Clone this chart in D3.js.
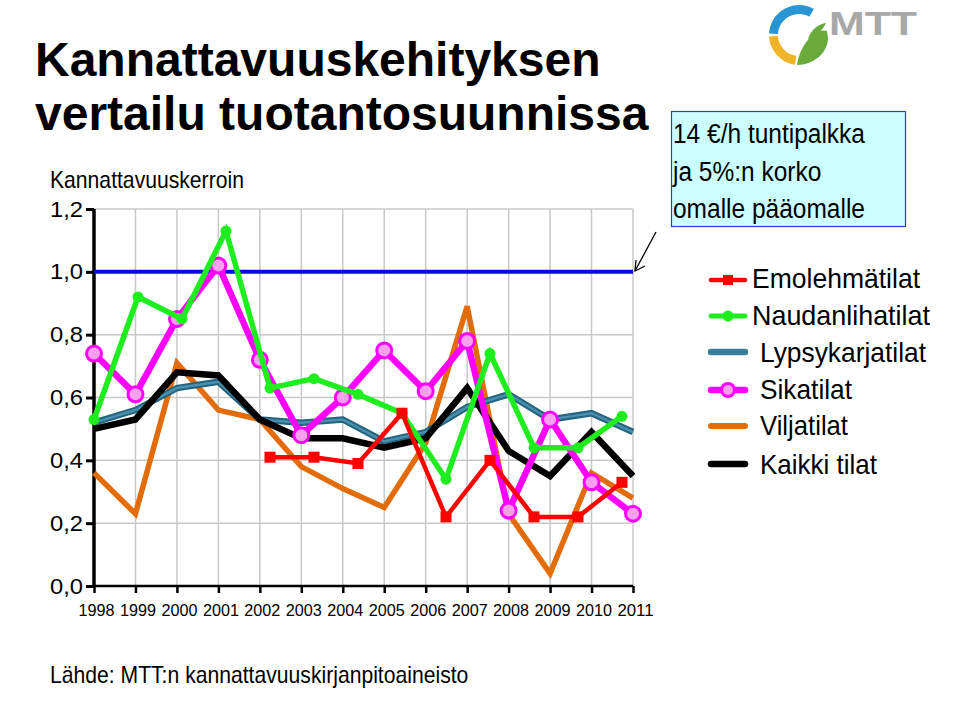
<!DOCTYPE html>
<html><head><meta charset="utf-8">
<script src="https://cdn.jsdelivr.net/npm/d3@7"></script>
<style>body{margin:0;background:#fff}svg{display:block;font-family:"Liberation Sans",Arial,sans-serif}</style>
</head><body>
<svg id="c" width="960" height="702"></svg>
<script>
const years = [1998,1999,2000,2001,2002,2003,2004,2005,2006,2007,2008,2009,2010,2011];
const yTicks = [0,0.2,0.4,0.6,0.8,1.0,1.2];
const yTickLabels = ["0,0","0,2","0,4","0,6","0,8","1,0","1,2"];
const emoYears = [2002,2003,2004,2005,2006,2007,2008,2009,2010];
const emolehma = [0.41,0.41,0.39,0.55,0.22,0.40,0.22,0.22,0.33];
const naudYears = [1998,1999,2000,2001,2002,2003,2004,2005,2006,2007,2008,2009,2010];
const naudanliha = [0.53,0.92,0.85,1.13,0.63,0.66,0.61,0.55,0.34,0.74,0.44,0.44,0.54];
const lypsy = [0.52,0.56,0.63,0.65,0.53,0.52,0.53,0.46,0.49,0.57,0.61,0.53,0.55,0.49];
const sika = [0.74,0.61,0.85,1.02,0.72,0.48,0.60,0.75,0.62,0.78,0.24,0.53,0.33,0.23];
const vilja = [0.36,0.23,0.71,0.56,0.53,0.38,0.31,0.25,0.455,0.89,0.23,0.04,0.36,0.28];
const kaikki = [0.50,0.53,0.68,0.67,0.53,0.47,0.47,0.44,0.47,0.63,0.43,0.35,0.49,0.35];
const refLevel = 1.0;
const legendNames = ["Emolehmätilat","Naudanlihatilat","Lypsykarjatilat","Sikatilat","Viljatilat","Kaikki tilat"];
const titleLines = ["Kannattavuuskehityksen","vertailu tuotantosuunnissa"];
const yTitle = "Kannattavuuskerroin";
const noteLines = ["14 €/h tuntipalkka","ja 5%:n korko","omalle pääomalle"];
const source = "Lähde: MTT:n kannattavuuskirjanpitoaineisto";

const svg = d3.select("#c");
const x = d3.scalePoint().domain(years).range([94,633]);
const xAlt = d3.scalePoint().domain(naudYears).range([94,622]);
const y = d3.scaleLinear().domain([0,1.2]).range([586,209]);

// condensed text helper
function ctext(parent, tx, ty, fs, sx, str, extra){
  const t = parent.append("text").attr("transform",`translate(${tx},${ty}) scale(${sx},1)`)
    .attr("font-size",fs).attr("fill","#000").text(str);
  if(extra) extra(t);
  return t;
}

// title
svg.selectAll("text.title").data(titleLines).join("text")
  .attr("x",35).attr("y",(d,i)=>76+i*54).attr("font-size",48).attr("font-weight","bold").attr("fill","#000")
  .text(d=>d);
ctext(svg,50,188,23,0.92,yTitle);

// grid
const g = svg.append("g");
g.selectAll("line.hg").data(yTicks.filter(v=>v>0)).join("line")
  .attr("x1",94).attr("x2",633).attr("y1",d=>y(d)).attr("y2",d=>y(d))
  .attr("stroke","#c8c8c8").attr("stroke-width",1.5);
g.selectAll("line.vg").data(years.slice(1)).join("line")
  .attr("x1",d=>x(d)).attr("x2",d=>x(d)).attr("y1",y(1.2)).attr("y2",y(0))
  .attr("stroke","#c8c8c8").attr("stroke-width",1.5);

// axes
const yAxis = svg.append("g").attr("transform","translate(94,0)")
  .call(d3.axisLeft(y).tickValues(yTicks).tickSize(8).tickPadding(3).tickFormat((d,i)=>yTickLabels[i]));
yAxis.select(".domain").attr("stroke","#000").attr("stroke-width",3.5).attr("d","M0,"+y(1.2)+"V"+y(0));
yAxis.selectAll(".tick line").attr("stroke","#000").attr("stroke-width",3);
yAxis.selectAll(".tick text").attr("font-size",22).attr("fill","#000").attr("font-family","Liberation Sans, Arial")
  .attr("textLength",33).attr("lengthAdjust","spacingAndGlyphs");
const xAxis = svg.append("g").attr("transform","translate(0,586)")
  .call(d3.axisBottom(x).tickSize(7).tickPadding(11));
xAxis.select(".domain").attr("stroke","#000").attr("stroke-width",2.5).attr("d","M94,0H633");
xAxis.selectAll(".tick line").attr("stroke","#000").attr("stroke-width",2.5);
xAxis.selectAll(".tick text").attr("font-size",17).attr("fill","#000").attr("dx",2)
  .attr("font-family","Liberation Sans, Arial").attr("textLength",36).attr("lengthAdjust","spacingAndGlyphs");

// reference line
svg.append("line").attr("x1",94).attr("x2",633).attr("y1",y(refLevel)).attr("y2",y(refLevel))
  .attr("stroke","#0a0ae0").attr("stroke-width",4);

const lineMain = d3.line().x((d,i)=>x(years[i])).y(d=>y(d));
const plot = svg.append("g");
plot.append("path").attr("d",lineMain(vilja)).attr("fill","none").attr("stroke","#e36c0a").attr("stroke-width",5.5);
plot.append("path").attr("d",lineMain(lypsy)).attr("fill","none").attr("stroke","#23647f").attr("stroke-width",6.5);
plot.append("path").attr("d",lineMain(lypsy)).attr("fill","none").attr("stroke","#4a8fae").attr("stroke-width",2.5);
plot.append("path").attr("d",lineMain(kaikki)).attr("fill","none").attr("stroke","#000").attr("stroke-width",6.5);
plot.append("path").attr("d",lineMain(sika)).attr("fill","none").attr("stroke","#ff00ff").attr("stroke-width",6.5);
plot.selectAll("circle.sika").data(sika).join("circle")
  .attr("cx",(d,i)=>x(years[i])).attr("cy",d=>y(d)).attr("r",7.5)
  .attr("fill","#f8a0ef").attr("stroke","#ff00ff").attr("stroke-width",3);
const lineNaud = d3.line().x((d,i)=>xAlt(naudYears[i])).y(d=>y(d));
plot.append("path").attr("d",lineNaud(naudanliha)).attr("fill","none").attr("stroke","#1eee1e").attr("stroke-width",5.5);
plot.selectAll("circle.naud").data(naudanliha).join("circle")
  .attr("cx",(d,i)=>xAlt(naudYears[i])).attr("cy",d=>y(d)).attr("r",5.5).attr("fill","#1eee1e");
const lineEmo = d3.line().x((d,i)=>xAlt(emoYears[i])).y(d=>y(d));
plot.append("path").attr("d",lineEmo(emolehma)).attr("fill","none").attr("stroke","#ff0000").attr("stroke-width",4.5);
plot.selectAll("rect.emo").data(emolehma).join("rect")
  .attr("x",(d,i)=>xAlt(emoYears[i])-5.5).attr("y",d=>y(d)-5.5).attr("width",11).attr("height",11).attr("fill","#ff0000");

// legend
const legY = [280,316,352,390,426,464];
const legBase = [288,325,362,399,435,474];
const legX = [752,752,760,760,760,760];
const legW = [168,178,166,92,88,117];
const leg = svg.append("g");
const styles = [
  {c:"#ff0000",w:4.5},{c:"#1eee1e",w:5},{c:"#3a7f9c",w:6.5},{c:"#ff00ff",w:6.5},{c:"#e36c0a",w:6},{c:"#000",w:6.5}];
legendNames.forEach((n,i)=>{
  leg.append("line").attr("x1",711).attr("x2",745).attr("y1",legY[i]).attr("y2",legY[i])
    .attr("stroke",styles[i].c).attr("stroke-width",styles[i].w).attr("stroke-linecap","round");
  if(i===0) leg.append("rect").attr("x",723).attr("y",legY[i]-5).attr("width",10).attr("height",10).attr("fill","#ff0000");
  if(i===1) leg.append("circle").attr("cx",728).attr("cy",legY[i]).attr("r",5.5).attr("fill","#1eee1e");
  if(i===3) leg.append("circle").attr("cx",728).attr("cy",legY[i]).attr("r",6.5).attr("fill","#f8a0ef").attr("stroke","#ff00ff").attr("stroke-width",3);
  leg.append("text").attr("x",legX[i]).attr("y",legBase[i]).attr("font-size",28).attr("fill","#000")
    .attr("textLength",legW[i]).attr("lengthAdjust","spacingAndGlyphs").text(n);
});

// note box
svg.append("rect").attr("x",671.5).attr("y",111.5).attr("width",234).attr("height",115)
  .attr("fill","#ccffff").attr("stroke","#3333ff").attr("stroke-width",1.2);
noteLines.forEach((s,i)=>ctext(svg,673,143+i*37.5,28,0.875,s));
// arrow
svg.append("line").attr("x1",656).attr("y1",232).attr("x2",635).attr("y2",271).attr("stroke","#000").attr("stroke-width",1.3);
svg.append("path").attr("d","M636,260 L635,271 L645,266").attr("fill","none").attr("stroke","#000").attr("stroke-width",1.3);

// logo
const logo = svg.append("g").attr("transform","translate(799,35)");
const arc = d3.arc().innerRadius(21).outerRadius(30);
logo.append("path").attr("d",arc({startAngle:-Math.PI/2+0.05,endAngle:0.52})).attr("fill","#2a95d5");
logo.append("path").attr("d",arc({startAngle:Math.PI+0.13,endAngle:1.5*Math.PI-0.05})).attr("fill","#f0b429");
logo.append("path").attr("d","M-2,30 C14,30 29,18 29,3 L28,-4 C22,-6 14,-2 8,6 C2,14 -1,22 -2,30 Z").attr("fill","#6aaa3a");
logo.append("path").attr("d","M9,4 C12,-6 20,-11 27,-12 C24,-5 18,1 9,4 Z").attr("fill","#6aaa3a");
svg.append("text").attr("x",829).attr("y",35).attr("font-size",34).attr("font-weight","bold").attr("fill","#a8a8a8")
  .attr("textLength",88).attr("lengthAdjust","spacingAndGlyphs").text("MTT");

// source
ctext(svg,50,683,23,0.92,source);
</script>
</body></html>
